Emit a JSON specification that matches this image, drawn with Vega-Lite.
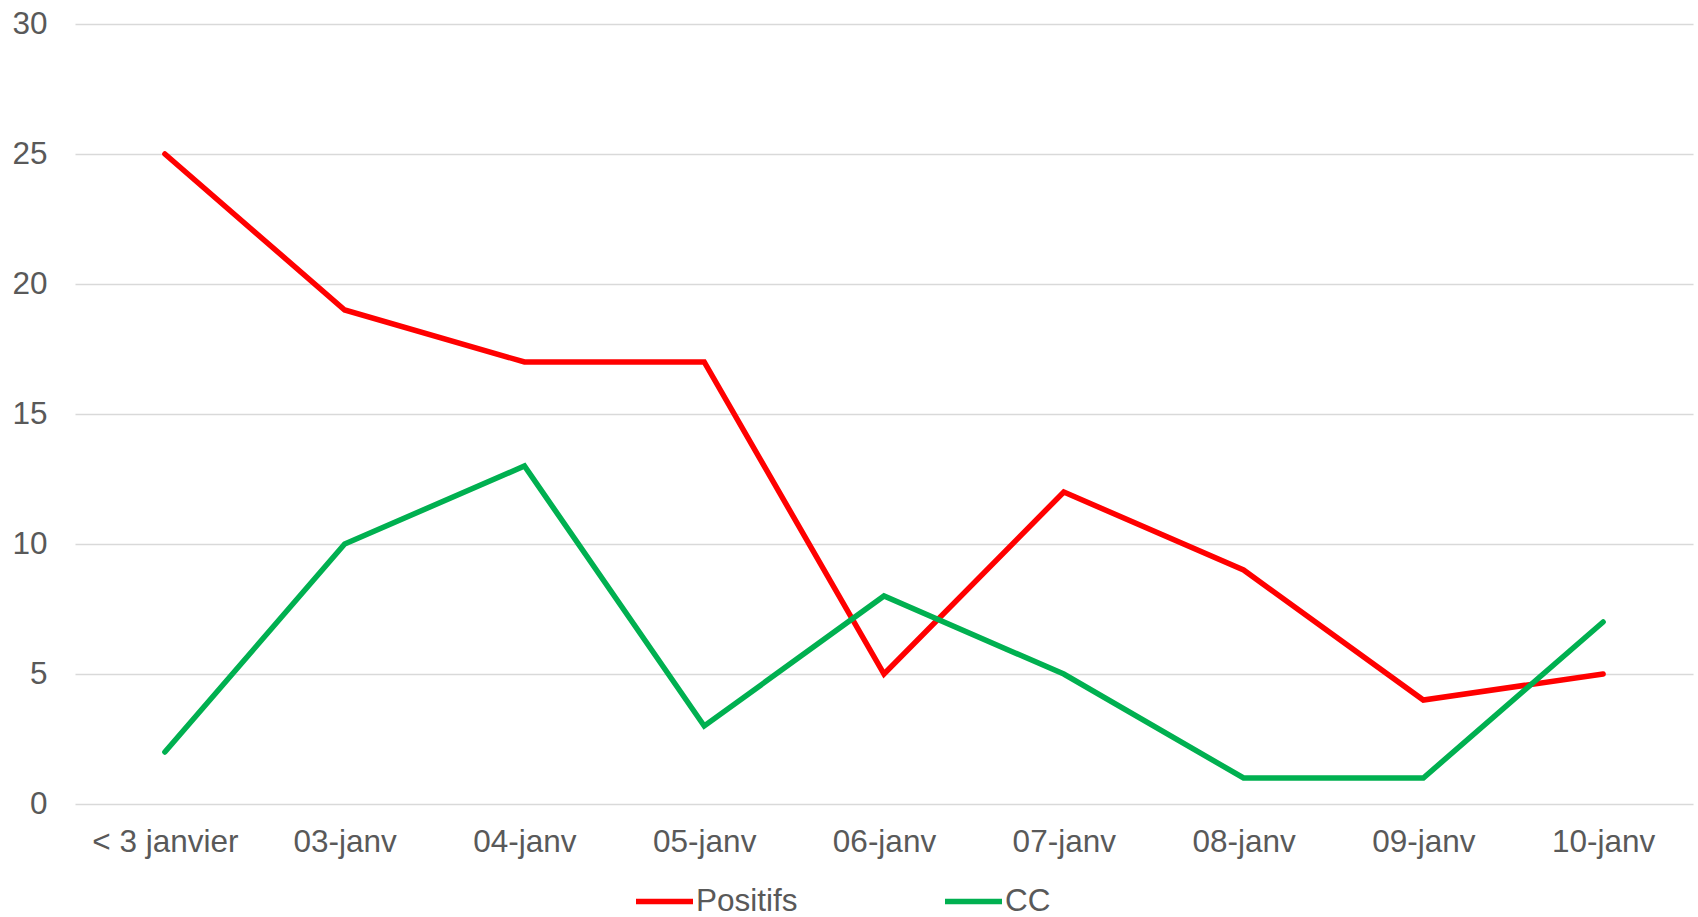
{
  "$schema": "https://vega.github.io/schema/vega-lite/v6.json",
  "width": 1618,
  "height": 780,
  "autosize": {"type": "none"},
  "padding": {"left": 75, "top": 24, "right": 5, "bottom": 113},
  "background": "white",
  "config": {
    "view": {"stroke": null},
    "font": "Liberation Sans"
  },
  "data": {
    "values": [
      {"date": "< 3 janvier", "serie": "Positifs", "value": 25},
      {"date": "03-janv", "serie": "Positifs", "value": 19},
      {"date": "04-janv", "serie": "Positifs", "value": 17},
      {"date": "05-janv", "serie": "Positifs", "value": 17},
      {"date": "06-janv", "serie": "Positifs", "value": 5},
      {"date": "07-janv", "serie": "Positifs", "value": 12},
      {"date": "08-janv", "serie": "Positifs", "value": 9},
      {"date": "09-janv", "serie": "Positifs", "value": 4},
      {"date": "10-janv", "serie": "Positifs", "value": 5},
      {"date": "< 3 janvier", "serie": "CC", "value": 2},
      {"date": "03-janv", "serie": "CC", "value": 10},
      {"date": "04-janv", "serie": "CC", "value": 13},
      {"date": "05-janv", "serie": "CC", "value": 3},
      {"date": "06-janv", "serie": "CC", "value": 8},
      {"date": "07-janv", "serie": "CC", "value": 5},
      {"date": "08-janv", "serie": "CC", "value": 1},
      {"date": "09-janv", "serie": "CC", "value": 1},
      {"date": "10-janv", "serie": "CC", "value": 7}
    ]
  },
  "mark": {"type": "line", "strokeWidth": 5.5, "strokeCap": "round", "strokeJoin": "miter"},
  "encoding": {
    "x": {
      "field": "date",
      "type": "ordinal",
      "sort": null,
      "scale": {"type": "point", "padding": 0.5},
      "axis": {
        "title": null,
        "labelAngle": 0,
        "labelFontSize": 31.5,
        "labelColor": "#595959",
        "labelPadding": 22,
        "ticks": false,
        "domain": false,
        "grid": false
      }
    },
    "y": {
      "field": "value",
      "type": "quantitative",
      "scale": {"domain": [0, 30], "nice": false},
      "axis": {
        "title": null,
        "values": [0, 5, 10, 15, 20, 25, 30],
        "labelFontSize": 31.5,
        "labelColor": "#595959",
        "labelPadding": 28,
        "ticks": false,
        "domain": false,
        "grid": true,
        "gridColor": "#D9D9D9",
        "gridWidth": 1.5
      }
    },
    "color": {
      "field": "serie",
      "type": "nominal",
      "sort": ["Positifs", "CC"],
      "scale": {"domain": ["Positifs", "CC"], "range": ["#FF0000", "#00B050"]},
      "legend": {
        "title": null,
        "orient": "none",
        "direction": "horizontal",
        "legendX": 558,
        "legendY": 846,
        "padding": 0,
        "symbolType": "stroke",
        "symbolSize": 3249,
        "symbolStrokeWidth": 5.5,
        "labelFontSize": 31.5,
        "labelColor": "#595959",
        "labelOffset": 0,
        "columnPadding": 136,
        "gridAlign": "all"
      }
    }
  }
}
